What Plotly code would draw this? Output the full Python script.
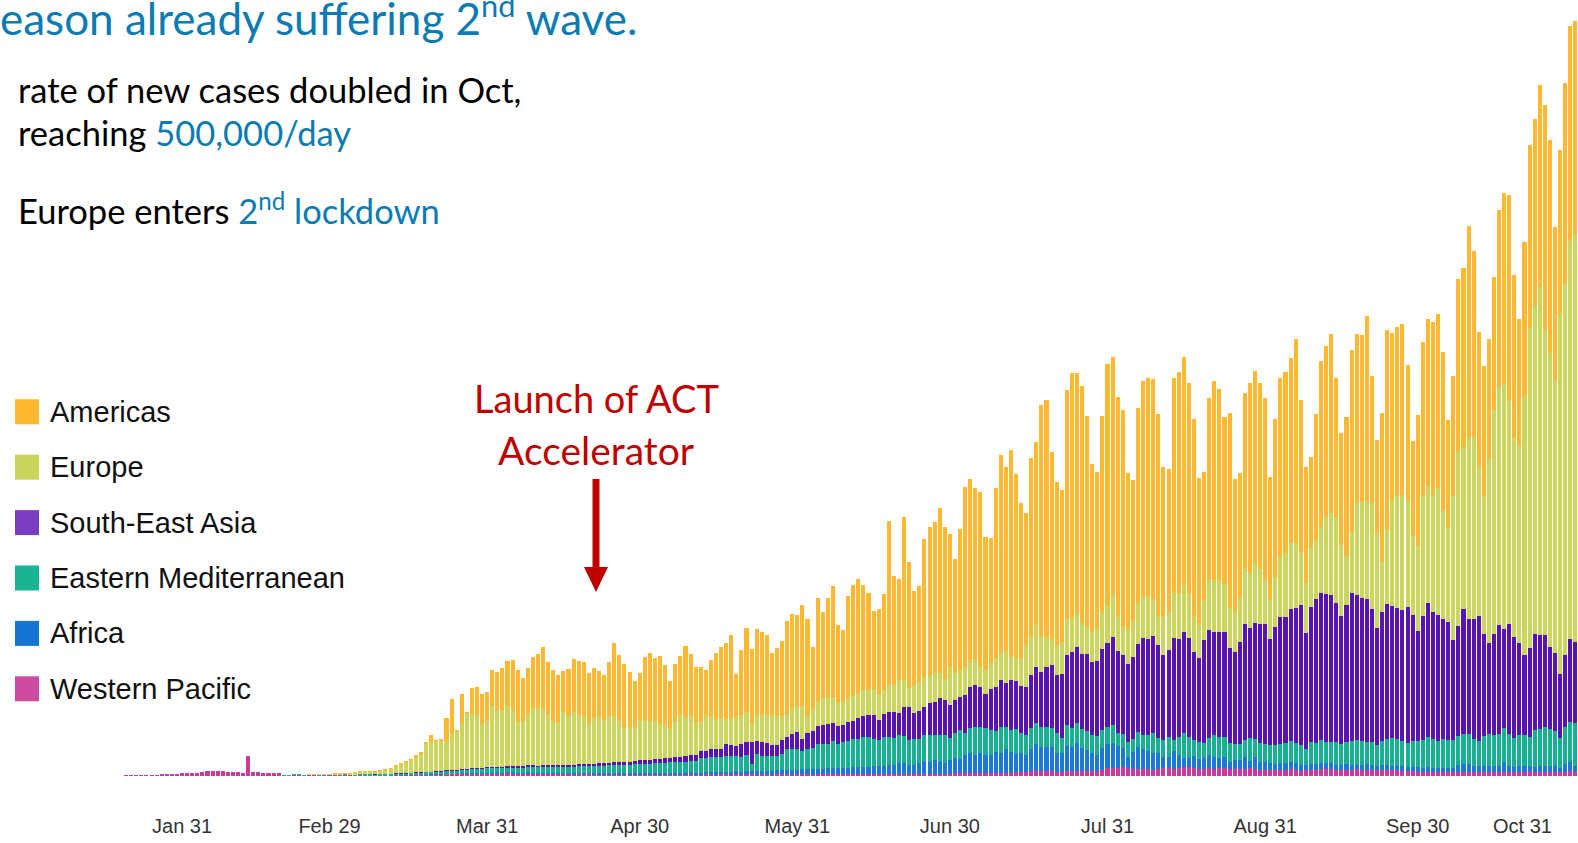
import pandas as pd
import plotly.graph_objects as go

# ---------------- data (thousand new cases per day, by WHO region) ----------------
dates = pd.date_range("2020-01-20", "2020-10-31", freq="D")

western_pacific = [
    0.1, 0.15, 0.2, 0.3, 0.4, 0.5, 0.7, 1.2, 1.5, 1.6, 1.8, 2.0,
    2.2, 2.4, 2.6, 3.2, 3.5, 3.6, 3.6, 3.4, 3.3, 3.0, 2.9, 2.4, 15.2, 3.3, 2.7, 2.5, 2.2, 2.0, 1.9, 0.6, 0.6, 1.0, 0.8, 0.6, 0.9, 0.8, 0.7, 0.9, 0.8,
    0.9, 0.8, 0.9, 0.8, 0.7, 0.8, 0.7, 0.6, 0.6, 0.6, 0.6, 0.7, 0.8, 0.7, 0.7, 0.8, 0.9, 0.9, 1.0, 1.0, 1.1, 1.3, 1.5, 1.6, 1.6, 1.8, 1.9, 1.9, 2.0, 2.0, 2.1,
    2.0, 2.2, 2.1, 2.3, 2.2, 2.0, 2.1, 2.2, 2.0, 1.9, 1.8, 1.7, 1.8, 1.6, 1.5, 1.6, 1.4, 1.5, 1.4, 1.5, 1.3, 1.4, 1.2, 1.3, 1.2, 1.1, 1.3, 1.2, 1.1, 1.2,
    1.1, 1.0, 1.2, 1.1, 1.0, 1.1, 1.2, 1.0, 1.1, 1.2, 1.0, 1.1, 1.2, 1.0, 1.1, 1.2, 1.3, 1.1, 1.2, 1.0, 1.2, 1.3, 1.1, 1.2, 1.0, 1.1, 1.2, 1.3, 1.2, 1.1, 1.2,
    1.3, 1.2, 1.1, 1.3, 1.2, 1.4, 1.3, 1.2, 1.3, 1.4, 1.3, 1.2, 1.4, 1.3, 1.5, 1.4, 1.3, 1.5, 1.5, 1.6, 1.6, 1.5, 1.5, 1.6, 1.7, 1.7, 1.8, 1.8, 1.7, 1.8,
    1.9, 2.0, 2.0, 2.1, 2.2, 2.3, 2.3, 2.4, 2.5, 2.5, 2.6, 2.6, 2.7, 2.8, 2.8, 3.5, 3.5, 3.5, 3.5, 3.5, 3.2, 3.2, 3.5, 3.5, 3.5, 3.5, 3.8, 3.8, 4.0, 4.2, 6.0,
    6.2, 6.0, 6.5, 6.3, 5.5, 5.0, 5.5, 5.0, 4.8, 5.5, 6.0, 5.8, 5.5, 6.0, 6.5, 6.5, 6.0, 5.5, 5.5, 5.8, 5.5, 5.8, 6.0, 5.5, 5.2, 5.0, 5.5, 5.8, 5.0, 4.8, 4.5,
    4.2, 4.5, 4.5, 4.8, 5.0, 4.5, 4.0, 4.2, 4.5, 4.8, 5.0, 5.2, 5.5, 4.8, 4.5, 4.8, 4.8, 5.0, 4.8, 4.8, 4.5, 4.2, 4.5, 4.8, 4.6, 4.4, 4.0, 3.8, 3.5, 3.2,
    3.0, 3.2, 3.1, 2.9, 3.0, 2.8, 3.2, 3.0, 3.3, 3.1, 2.9, 3.0, 3.2, 3.1, 2.8, 3.0, 3.3, 3.1, 2.9, 3.0, 3.2, 3.4, 3.1, 3.0, 3.2, 3.3, 3.0, 3.1, 3.2, 3.4, 3.3,
]

africa = [
    0, 0, 0, 0, 0, 0, 0, 0, 0, 0, 0, 0,
    0, 0, 0, 0, 0, 0, 0, 0, 0, 0, 0, 0, 0, 0, 0, 0, 0, 0, 0, 0, 0, 0, 0, 0, 0, 0, 0, 0, 0,
    0, 0, 0, 0, 0, 0, 0, 0, 0.01, 0.02, 0.02, 0.03, 0.04, 0.05, 0.06, 0.08, 0.1, 0.1, 0.12, 0.15, 0.15, 0.15, 0.2, 0.2, 0.25, 0.3, 0.3, 0.35, 0.4, 0.4, 0.45,
    0.4, 0.45, 0.45, 0.5, 0.45, 0.5, 0.5, 0.55, 0.6, 0.55, 0.6, 0.65, 0.6, 0.7, 0.65, 0.7, 0.75, 0.8, 0.75, 0.8, 0.85, 0.9, 0.9, 0.95, 1.0, 1.0, 1.05, 1.1, 1.1, 1.15,
    1.2, 1.2, 1.3, 1.3, 1.3, 1.4, 1.4, 1.4, 1.4, 1.5, 1.5, 1.5, 1.6, 1.7, 1.8, 1.9, 2.0, 2.1, 2.2, 2.3, 2.4, 2.5, 2.6, 2.7, 2.8, 2.9, 3.0, 3.1, 3.3, 3.4, 3.5,
    3.6, 3.8, 3.9, 4.0, 4.2, 4.3, 4.5, 4.6, 4.8, 4.9, 5.1, 5.3, 5.5, 5.7, 5.9, 6.1, 6.3, 6.5, 6.75, 8, 8, 6.75, 6.75, 8, 9.75, 9, 10.25, 9, 8.25, 10.25,
    11.25, 10.5, 13.75, 15, 13.5, 14.75, 13.5, 13.25, 15.75, 14.5, 17.5, 15.5, 13.75, 14.25, 13, 16.5, 20.5, 18.5, 18.5, 18.5, 13.75, 13.75, 19, 18, 21.5, 17.25, 15.75, 13.25, 11.75, 16.5, 18,
    18.25, 16.5, 14.25, 8.25, 12.75, 17, 14.5, 14, 12.25, 11.5, 8.5, 8.75, 13.5, 9.75, 6.75, 7, 9, 7, 7.75, 10, 9, 7.5, 8.5, 5.25, 6.75, 7, 8.5, 5.75, 9, 6, 6.25,
    5.25, 4.5, 5, 4.75, 5.75, 5, 4, 4, 4.5, 4.25, 4.5, 4.75, 4, 3.5, 3.75, 4.25, 3.5, 3.25, 3.5, 4.25, 3.75, 3.5, 3.5, 3.5, 3, 3, 3.5, 3, 3.2, 3.2,
    3.15, 3.2, 3.1, 3.2, 3.15, 3.2, 3.1, 5.6, 5.6, 5.6, 4.35, 4.35, 4.35, 4.35, 4.35, 4.35, 7.35, 4.1, 3.8, 4.3, 4.0, 4.4, 3.9, 4.2, 4.5, 4.0, 4.3, 3.15, 5.6, 6.9, 4.35,
]

eastern_mediterranean = [
    0, 0, 0, 0, 0, 0, 0, 0, 0, 0, 0, 0,
    0, 0, 0, 0, 0, 0, 0, 0, 0, 0, 0, 0, 0, 0, 0, 0, 0, 0, 0, 0.01, 0.02, 0.03, 0.05, 0.05, 0.1, 0.15, 0.2, 0.3, 0.3,
    0.4, 0.5, 0.6, 0.6, 0.7, 0.9, 1.0, 0.9, 0.8, 0.9, 1.0, 1.1, 1.2, 1.3, 1.4, 1.5, 1.6, 1.7, 1.9, 2.0, 2.2, 2.2, 2.3, 2.5, 2.6, 2.8, 3.0, 3.2, 3.3, 3.4, 3.5,
    3.6, 3.7, 3.8, 3.7, 3.8, 3.9, 4.0, 4.1, 4.2, 4.3, 4.4, 4.5, 4.5, 4.6, 4.7, 4.6, 4.7, 4.9, 5.0, 5.1, 5.2, 5.4, 5.5, 5.7, 5.8, 6.0, 6.1, 6.3, 6.5, 6.7,
    6.9, 7.0, 7.2, 7.4, 7.5, 7.7, 7.9, 8.0, 8.2, 8.4, 8.5, 10.75, 10.6, 11.2, 11.55, 11.4, 11.75, 11.6, 11.45, 11.3, 11.9, 5.5, 12.85, 11.45, 11.3, 10.65, 10.5, 12.1, 15.7, 16.05, 15.4,
    14, 15.1, 16.2, 18.55, 18.9, 18.25, 20.6, 18.45, 19.05, 20.15, 21.25, 21.1, 22.2, 22.05, 20.65, 19.25, 21.6, 21.45, 20, 21.25, 20.75, 18.75, 19.5, 18.25, 19.25, 20, 18.75, 20, 20.75, 16.25,
    18.75, 22, 16.75, 18.75, 20.75, 19.5, 20, 18.75, 15.75, 19.5, 17, 16.75, 18.5, 15.5, 15, 15.75, 16, 15, 14.5, 13.75, 15, 11.25, 15.75, 14.25, 15, 14.5, 14.5, 13.75, 14.25, 13.75, 12.5,
    13.75, 9.5, 10.75, 11.25, 9.25, 11.25, 10.75, 11.75, 15, 11.25, 12.5, 15, 8, 13.25, 18.75, 16, 12, 13.25, 11.25, 12.5, 16.25, 16.25, 14.5, 13.75, 12, 12, 13, 16.75, 13.5, 13.75, 13.25,
    13.75, 14.25, 14.25, 15, 15.75, 15, 15, 11.75, 16.75, 16, 17.5, 15.75, 16.25, 17.5, 15.75, 16.75, 18.25, 18.75, 18.25, 16.75, 17.5, 15.5, 18, 19.5, 21, 20, 19, 18, 19.2, 20,
    21.2, 22.5, 21.75, 20, 21.75, 21.2, 20.7, 21.2, 22.5, 22.5, 20.5, 18.75, 22.5, 23.8, 23.8, 23.8, 25, 24, 21.5, 23.25, 23.25, 21.5, 27.2, 28.3, 29, 28.3, 26.5, 22.5, 28.3, 30, 31.8,
]

south_east_asia = [
    0, 0, 0, 0, 0, 0, 0, 0, 0, 0, 0, 0,
    0, 0, 0, 0, 0, 0, 0, 0, 0, 0, 0, 0, 0, 0, 0, 0, 0, 0, 0, 0, 0, 0, 0, 0, 0, 0, 0, 0, 0,
    0, 0, 0, 0.01, 0.01, 0.01, 0.02, 0.02, 0.02, 0.03, 0.03, 0.03, 0.04, 0.04, 0.05, 0.05, 0.06, 0.06, 0.07, 0.08, 0.09, 0.1, 0.15, 0.15, 0.2, 0.2, 0.25, 0.3, 0.3, 0.35, 0.4,
    0.5, 0.6, 0.7, 0.8, 0.8, 0.9, 1.0, 1.1, 1.2, 1.0, 1.1, 1.3, 1.2, 1.4, 1.5, 1.5, 1.6, 1.8, 1.7, 1.9, 1.8, 2.0, 2.2, 2.0, 2.3, 2.1, 2.4, 2.2, 2.5, 2.6,
    2.8, 3.0, 3.4, 3.2, 3.8, 3.5, 4.0, 4.2, 4.0, 4.4, 4.6, 5.5, 5.5, 6.25, 5.5, 5.5, 9, 8.25, 7.75, 9.5, 10, 16.25, 10, 10, 10, 8.5, 8.5, 10.5, 8.75, 11.25, 13.25,
    8.75, 12, 12.5, 13.75, 14, 15, 13, 13.25, 13.25, 13.75, 13.75, 16.25, 16.25, 16.75, 17.5, 15.5, 17, 18.75, 20, 16.75, 21.75, 25, 19.75, 21.25, 21.25, 23.75, 25, 27.5, 26.25, 25,
    25, 25, 28.25, 31.25, 31.75, 30.5, 25.75, 30.5, 33, 35.5, 32.5, 37, 36.5, 35, 36.25, 40, 42, 41.25, 45.5, 47.25, 43.75, 48, 52.5, 57, 56.5, 56, 57.25, 55, 56.5, 60.75, 63.5,
    65.75, 62, 59.25, 58.25, 61.5, 65.75, 73, 72, 73.25, 70, 63.75, 65, 76.75, 73.5, 76.25, 73.75, 66.25, 62.5, 77.5, 81.25, 77, 78.75, 78.75, 71.25, 69.25, 76.75, 86.75, 82.5, 87.5, 89.5, 89.75,
    79.25, 88.75, 95.75, 95, 98.5, 101.75, 105, 87, 100.75, 107.5, 110, 110.75, 110, 103.75, 96, 102.5, 110.5, 108.75, 106.75, 106.75, 99.25, 87.5, 97, 101, 99, 98.75, 98, 102, 95, 82,
    92.5, 100.5, 95, 94.3, 89.5, 88.3, 74.8, 82.5, 93.75, 86.8, 90, 93.75, 76.8, 68.8, 75.5, 81.75, 74.5, 82.5, 76.2, 69, 60, 66.75, 72.3, 70, 69.2, 61.5, 58.3, 47.5, 53.7, 62.5, 60.75,
]

europe = [
    0, 0, 0, 0, 0, 0, 0, 0, 0, 0, 0, 0,
    0, 0, 0, 0, 0, 0, 0, 0, 0, 0, 0, 0, 0, 0, 0, 0, 0, 0, 0, 0, 0, 0, 0, 0, 0.1, 0.15, 0.2, 0.25, 0.3,
    0.5, 0.6, 0.7, 0.8, 1.2, 1.3, 1.5, 1.6, 1.8, 2.8, 2.8, 3.5, 5.0, 6.5, 8.0, 9.0, 10.5, 13, 21, 22, 22, 22.5, 21.25, 27.5, 28.75, 35, 40.75, 40.5, 38.75, 33, 34.5,
    46, 41.75, 42.25, 45.5, 41.25, 33.25, 32.75, 38.25, 42.75, 43.25, 43.25, 37.75, 32.75, 31.75, 40, 36.5, 39.75, 37, 36.5, 30, 34.5, 34.5, 32.5, 35.25, 34.5, 30.75, 25, 25.75, 25.75, 30.5,
    29.5, 28.75, 28, 25.5, 23.75, 21.25, 26.25, 32, 29.25, 29.25, 24.25, 22, 25.75, 24.25, 23, 22.5, 19, 19.75, 21.75, 21.25, 22.5, 13.25, 19.5, 20.75, 20.75, 22.75, 22, 17, 17, 19.5, 18.75,
    25, 13, 16.25, 18.75, 19.25, 20, 19, 17.5, 16.75, 18.25, 18.75, 18.75, 18.25, 19.5, 18.75, 18.25, 18, 20, 20, 24.5, 20, 13.75, 20.75, 20.5, 22.5, 20.5, 21.25, 19.25, 15.5, 28.75,
    20, 20, 21.25, 19.5, 18.75, 14.5, 18, 19.5, 21.25, 20.5, 24.5, 17.5, 16.75, 20, 31.25, 28.75, 31.25, 26.25, 22.5, 19.5, 21.75, 23.25, 26.25, 26, 24.75, 23.75, 20.25, 22.5, 23.5, 28, 27.5,
    31.75, 25.5, 21.25, 26, 27.5, 30.5, 30.25, 31.75, 27.25, 21.25, 28.25, 28.75, 33.25, 34, 35, 33.25, 26.25, 25, 30, 37.5, 38.75, 38.75, 36.25, 30, 28.75, 32.5, 41.25, 41.25, 44.5, 41, 33.25,
    29.5, 36.25, 45, 48, 49.5, 48.75, 40, 37.5, 44.25, 44.5, 50, 58, 61.25, 63.75, 53.25, 36.75, 46.25, 68.75, 72.5, 73.75, 79.5, 70.75, 37.5, 55.75, 79.25, 83.75, 86.25, 79.25, 59, 64,
    90, 88.2, 87.5, 95.8, 82, 70.5, 108.2, 131.25, 121.3, 135.75, 136.2, 113, 102.75, 138, 167.7, 178.5, 183.75, 167.5, 148.8, 148, 193.5, 240.2, 246.2, 261.2, 228.75, 220, 205, 270, 278, 298.7, 306.2,
]

americas = [
    0, 0, 0, 0, 0, 0, 0, 0, 0, 0, 0, 0,
    0, 0, 0, 0, 0, 0, 0, 0, 0, 0, 0, 0, 0, 0, 0, 0, 0, 0, 0, 0, 0, 0, 0, 0, 0, 0, 0, 0, 0,
    0.01, 0.01, 0.02, 0.03, 0.04, 0.05, 0.07, 0.08, 0.1, 0.15, 0.3, 0.4, 0.5, 0.7, 0.9, 1.2, 2.3, 2.5, 1.0, 5.5, 1.5, 0.8, 18.25, 25.5, 1.0, 21.25, 1.75, 20, 21.75, 22.5, 22,
    27, 29.5, 32, 33.75, 38.5, 38.75, 33, 35, 38.75, 40.5, 45.5, 39.25, 38.75, 36, 30.25, 35, 39.25, 40, 40, 37.75, 37.5, 34.5, 33.75, 40, 55, 49.5, 48.25, 41.25, 34.25, 35,
    48, 51.25, 47.5, 51.5, 46.25, 36.25, 43.5, 43.5, 53.25, 47, 42, 40.75, 35, 42.5, 49.5, 54, 56.5, 62.75, 32.5, 49.5, 63, 56.25, 64.25, 61.75, 60, 46, 50.75, 57, 70, 70.5, 68.5,
    75.75, 72.5, 47, 77.5, 65.5, 74.5, 83.75, 58.25, 54.25, 76.75, 83, 85, 79.75, 72, 59.5, 65, 72.5, 122.75, 81.75, 75.5, 122, 95, 70.75, 73, 103, 111.5, 113.25, 123.75, 114.5, 99.25,
    85.5, 105.5, 135, 136, 129.25, 131.25, 100, 93.75, 127.5, 148.25, 138, 155, 138.25, 117.5, 98.75, 133.75, 137.5, 173.75, 177.5, 140.75, 123.25, 115, 172.5, 183.25, 180.75, 177.5, 158.5, 125.5, 118.25, 146.75, 181.5,
    178.75, 164.5, 162.5, 117.5, 105.5, 146.75, 162.5, 163.75, 165, 151.75, 113, 106.75, 161.25, 166.25, 171.25, 158, 148, 110.5, 96.25, 136.75, 149.75, 143.25, 125.5, 146.75, 100.5, 93.75, 132, 142.5, 144.25, 140, 136.75,
    92.5, 119.5, 134.25, 135.75, 138.75, 152.5, 114.25, 87.5, 68.25, 94.25, 124.5, 128.25, 134.5, 105.5, 84.25, 104.5, 136.25, 127, 125, 138.75, 95.75, 70.5, 112, 150, 125.5, 126.75, 128, 102, 71, 98,
    115.5, 125, 130, 130, 118.5, 80.7, 90, 129.3, 134.25, 158.7, 140, 100, 98, 89.5, 100, 132.75, 143.25, 154.3, 122.5, 95.5, 116.8, 137.25, 140, 151.3, 168.75, 160, 115, 123, 151.3, 160.8, 159.75,
]

tick_dates = ["2020-01-31", "2020-02-29", "2020-03-31", "2020-04-30", "2020-05-31",
              "2020-06-30", "2020-07-31", "2020-08-31", "2020-09-30"]
tick_labels = ["Jan 31", "Feb 29", "Mar 31", "Apr 30", "May 31",
               "Jun 30", "Jul 31", "Aug 31", "Sep 30"]
last_tick_label = "Oct 31"

regions = ["Americas", "Europe", "South-East Asia", "Eastern Mediterranean", "Africa", "Western Pacific"]

for nm, arr in [("western_pacific", western_pacific), ("africa", africa),
                ("eastern_mediterranean", eastern_mediterranean), ("south_east_asia", south_east_asia),
                ("europe", europe), ("americas", americas)]:
    if len(arr) != len(dates):
        raise ValueError(f"{nm}: {len(arr)} values, expected {len(dates)}")

# ---------------- styling ----------------
W, H = 1578, 843
B = 67                      # bottom margin -> plot area height
PH = H - B
BLUE = "#0B7BB3"
RED = "#C00000"

bar_colors = {
    "Americas": "#FFB830",
    "Europe": "#CAD65E",
    "South-East Asia": "#5B12B2",
    "Eastern Mediterranean": "#18B093",
    "Africa": "#1C78D8",
    "Western Pacific": "#CB3A9D",
}
legend_colors = {
    "Americas": "#FFB830",
    "Europe": "#C8D55A",
    "South-East Asia": "#7A3DC1",
    "Eastern Mediterranean": "#1AB394",
    "Africa": "#1575D5",
    "Western Pacific": "#CC4AA0",
}


def fx(x):
    return x / W


def fy(y):
    return (PH - y) / PH


fig = go.Figure()
stack = [("Western Pacific", western_pacific), ("Africa", africa),
         ("Eastern Mediterranean", eastern_mediterranean), ("South-East Asia", south_east_asia),
         ("Europe", europe), ("Americas", americas)]
for name, vals in stack:
    fig.add_trace(go.Bar(
        x=dates, y=vals, name=name,
        marker=dict(color=bar_colors[name], line=dict(width=0)),
        showlegend=False,
        hovertemplate="%{x|%b %d}<br>" + name + ": %{y:.1f}k<extra></extra>",
    ))

annotations = []
shapes = []

# manual legend
for i, name in enumerate(regions):
    cy = 411.8 + i * 55.4
    shapes.append(dict(type="rect", xref="paper", yref="paper",
                       x0=fx(15), x1=fx(39), y0=fy(cy + 12.5), y1=fy(cy - 12.5),
                       fillcolor=legend_colors[name], line=dict(width=0)))
    annotations.append(dict(text=name, x=fx(47.5), y=fy(cy), xref="paper", yref="paper",
                            xanchor="left", yanchor="middle", showarrow=False,
                            font=dict(family="Liberation Sans, Arial", size=29, color="#111111")))

# headline texts
annotations.append(dict(text="eason already suffering 2<sup>nd</sup> wave.", x=fx(-2), y=fy(15),
                        xref="paper", yref="paper", xanchor="left", yanchor="middle", showarrow=False,
                        font=dict(family="Lato", size=44, color=BLUE)))
annotations.append(dict(text="rate of new cases doubled in Oct,", x=fx(16), y=fy(89),
                        xref="paper", yref="paper", xanchor="left", yanchor="middle", showarrow=False,
                        font=dict(family="Lato", size=34.5, color="#000000")))
annotations.append(dict(text="reaching <span style='color:%s'>500,000/day</span>" % BLUE, x=fx(16), y=fy(133),
                        xref="paper", yref="paper", xanchor="left", yanchor="middle", showarrow=False,
                        font=dict(family="Lato", size=34.5, color="#000000")))
annotations.append(dict(text="Europe enters <span style='color:%s'>2<sup>nd</sup> lockdown</span>" % BLUE,
                        x=fx(16), y=fy(208),
                        xref="paper", yref="paper", xanchor="left", yanchor="middle", showarrow=False,
                        font=dict(family="Lato", size=34.5, color="#000000")))

# ACT accelerator annotation
annotations.append(dict(text="Launch of ACT", x=fx(596), y=fy(398), xref="paper", yref="paper",
                        xanchor="center", yanchor="middle", showarrow=False,
                        font=dict(family="Lato", size=38, color=RED)))
annotations.append(dict(text="Accelerator", x=fx(596), y=fy(450), xref="paper", yref="paper",
                        xanchor="center", yanchor="middle", showarrow=False,
                        font=dict(family="Lato", size=39, color=RED)))
shapes.append(dict(type="rect", xref="paper", yref="paper",
                   x0=fx(592.5), x1=fx(599.5), y0=fy(572), y1=fy(479),
                   fillcolor=RED, line=dict(width=0)))
shapes.append(dict(type="path", xref="paper", yref="paper",
                   path="M %f,%f L %f,%f L %f,%f Z" % (fx(584), fy(567), fx(608), fy(567), fx(596), fy(592)),
                   fillcolor=RED, line=dict(width=0)))

# last (clamped) axis label
annotations.append(dict(text=last_tick_label, x=fx(1522), y=fy(826), xref="paper", yref="paper",
                        xanchor="center", yanchor="middle", showarrow=False,
                        font=dict(family="Liberation Sans, Arial", size=20, color="#333333")))

fig.update_layout(
    width=W, height=H,
    margin=dict(l=0, r=0, t=0, b=B, pad=0),
    barmode="stack", bargap=0.2,
    plot_bgcolor="white", paper_bgcolor="white",
    showlegend=False,
    annotations=annotations, shapes=shapes,
    xaxis=dict(type="date", range=["2019-12-26 04:46", "2020-10-31 12:33"],
               tickvals=tick_dates, ticktext=tick_labels, ticks="",
               showgrid=False, zeroline=False, showline=False,
               ticklabelstandoff=36,
               tickfont=dict(family="Liberation Sans, Arial", size=20, color="#333333")),
    yaxis=dict(visible=False, range=[0, 582], fixedrange=True),
)

fig.write_html("out.html", include_plotlyjs=True,
               config={"displayModeBar": False},
               post_script="document.body.style.margin='0';document.body.style.overflow='hidden';")
